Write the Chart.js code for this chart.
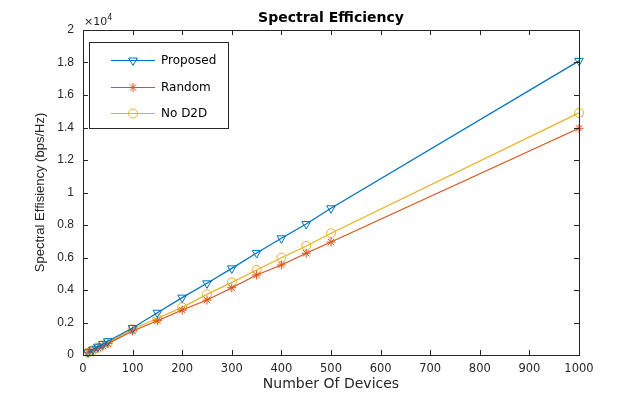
<!DOCTYPE html>
<html>
<head>
<meta charset="utf-8">
<script src="https://cdn.jsdelivr.net/npm/chart.js@4/dist/chart.umd.min.js"></script>
<style>
html,body{margin:0;padding:0;background:#fff;}
canvas{display:block;}
</style>
</head>
<body>
<canvas id="c" width="640" height="400"></canvas>
<script>
const devices = [10, 20, 30, 40, 50, 100, 150, 200, 250, 300, 350, 400, 450, 500, 1000];
const proposed = [170, 340, 510, 680, 850, 1660, 2600, 3530, 4410, 5330, 6280, 7180, 8060, 9030, 18100];
const random = [140, 280, 420, 560, 700, 1480, 2110, 2770, 3380, 4140, 4920, 5540, 6260, 6950, 13950];
const noD2D = [150, 300, 450, 600, 750, 1580, 2260, 2930, 3730, 4470, 5230, 5990, 6710, 7490, 14900];
const seriesNames = ['Proposed', 'Random', 'No D2D'];
const chartTitle = 'Spectral Efficiency';
const xTitle = 'Number Of Devices';
const yTitle = 'Spectral Effisiency (bps/Hz)';

const colors = ['#0072BD', '#D95319', '#EDB120'];
const axisColor = '#262626';

function mk(data){ return devices.map((x,i)=>({x:x,y:data[i]})); }

const framePlugin = {
  id: 'frame',
  afterDraw(chart){
    const ctx = chart.ctx, a = chart.chartArea;
    const xs = chart.scales.x, ys = chart.scales.y;
    ctx.save();
    ctx.strokeStyle = axisColor;
    ctx.lineWidth = 1;
    ctx.strokeRect(Math.round(a.left)+0.5, Math.round(a.top)+0.5, Math.round(a.right-a.left), Math.round(a.bottom-a.top));
    const tl = 5;
    ctx.beginPath();
    xs.ticks.forEach(t=>{
      const px = Math.round(xs.getPixelForValue(t.value))+0.5;
      ctx.moveTo(px, a.bottom); ctx.lineTo(px, a.bottom - tl);
      ctx.moveTo(px, a.top); ctx.lineTo(px, a.top + tl);
    });
    ys.ticks.forEach(t=>{
      const py = Math.round(ys.getPixelForValue(t.value))+0.5;
      ctx.moveTo(a.left, py); ctx.lineTo(a.left + tl, py);
      ctx.moveTo(a.right, py); ctx.lineTo(a.right - tl, py);
    });
    ctx.stroke();

    // exponent label
    ctx.fillStyle = axisColor;
    ctx.textBaseline = 'alphabetic';
    ctx.textAlign = 'left';
    ctx.font = '11px "DejaVu Sans"';
    ctx.fillText('\u00d710', a.left + 1, a.top - 5);
    const w = ctx.measureText('\u00d710').width;
    ctx.font = '8px "DejaVu Sans"';
    ctx.fillText('4', a.left + 1 + w, a.top - 10);

    // title
    ctx.font = 'bold 14px "DejaVu Sans"';
    ctx.textAlign = 'center';
    ctx.fillStyle = '#000';
    ctx.fillText(chartTitle, (a.left + a.right)/2, a.top - 8);

    // legend
    const lx = 89, ly = 42, lw = 139, lh = 86;
    ctx.fillStyle = '#fff';
    ctx.fillRect(lx, ly, lw, lh);
    ctx.strokeStyle = axisColor;
    ctx.strokeRect(lx+0.5, ly+0.5, lw, lh);
    const rows = [60, 87, 113];
    chart.data.datasets.forEach((ds, i)=>{
      const y = rows[i] + 0.5;
      ctx.strokeStyle = ds.borderColor;
      ctx.lineWidth = ds.borderWidth;
      ctx.beginPath(); ctx.moveTo(111, y); ctx.lineTo(155, y); ctx.stroke();
      ctx.fillStyle = ds.pointBackgroundColor;
      ctx.strokeStyle = ds.borderColor;
      ctx.lineWidth = 1;
      Chart.helpers.drawPoint(ctx, {pointStyle: ds.pointStyle, rotation: ds.pointRotation || 0, radius: ds.pointRadius, borderWidth: 1}, 133, y);
      ctx.fillStyle = '#000';
      ctx.font = '12px "DejaVu Sans"';
      ctx.textAlign = 'left';
      ctx.textBaseline = 'middle';
      ctx.fillText(ds.label, 161, y);
    });
    ctx.restore();
  }
};

new Chart(document.getElementById('c'), {
  type: 'line',
  data: {
    datasets: [
      {label: seriesNames[0], data: mk(proposed), borderColor: colors[0], pointBorderColor: colors[0], pointBackgroundColor: 'rgba(0,0,0,0)', pointStyle: 'triangle', pointRotation: 180, pointRadius: 5, borderWidth: 1.2, pointBorderWidth: 1},
      {label: seriesNames[1], data: mk(random), borderColor: colors[1], pointBorderColor: colors[1], pointBackgroundColor: 'rgba(0,0,0,0)', pointStyle: 'star', pointRadius: 4.5, borderWidth: 1.2, pointBorderWidth: 1},
      {label: seriesNames[2], data: mk(noD2D), borderColor: colors[2], pointBorderColor: colors[2], pointBackgroundColor: 'rgba(0,0,0,0)', pointStyle: 'circle', pointRadius: 4.5, borderWidth: 1.2, pointBorderWidth: 1}
    ]
  },
  options: {
    responsive: false,
    animation: false,
    events: [],
    clip: false,
    layout: {padding: {left: 0, right: 61, top: 30, bottom: 0}},
    plugins: {legend: {display: false}, title: {display: false}, tooltip: {enabled: false}},
    elements: {line: {tension: 0}},
    scales: {
      x: {
        type: 'linear', min: 0, max: 1000,
        grid: {display: false, drawTicks: false},
        border: {display: false},
        ticks: {stepSize: 100, color: axisColor, font: {family: 'DejaVu Sans', size: 11.5}, padding: 7, maxRotation: 0, autoSkip: false,
          callback: v => String(v)},
        title: {display: true, text: xTitle, color: axisColor, font: {family: 'DejaVu Sans', size: 14}, padding: {top: 0, bottom: 7}},
        afterFit(s){ s.height = 45; }
      },
      y: {
        type: 'linear', min: 0, max: 20000,
        grid: {display: false, drawTicks: false},
        border: {display: false},
        ticks: {stepSize: 2000, color: axisColor, font: {family: 'Liberation Sans', size: 12}, padding: 9, autoSkip: false,
          callback: v => String(Math.round(v/1000)/10)},
        title: {display: true, text: yTitle, color: axisColor, font: {family: 'Liberation Sans', size: 13}, padding: {top: 33, bottom: 0}},
        afterFit(s){ s.width = 83; }
      }
    }
  },
  plugins: [framePlugin]
});
</script>
</body>
</html>
